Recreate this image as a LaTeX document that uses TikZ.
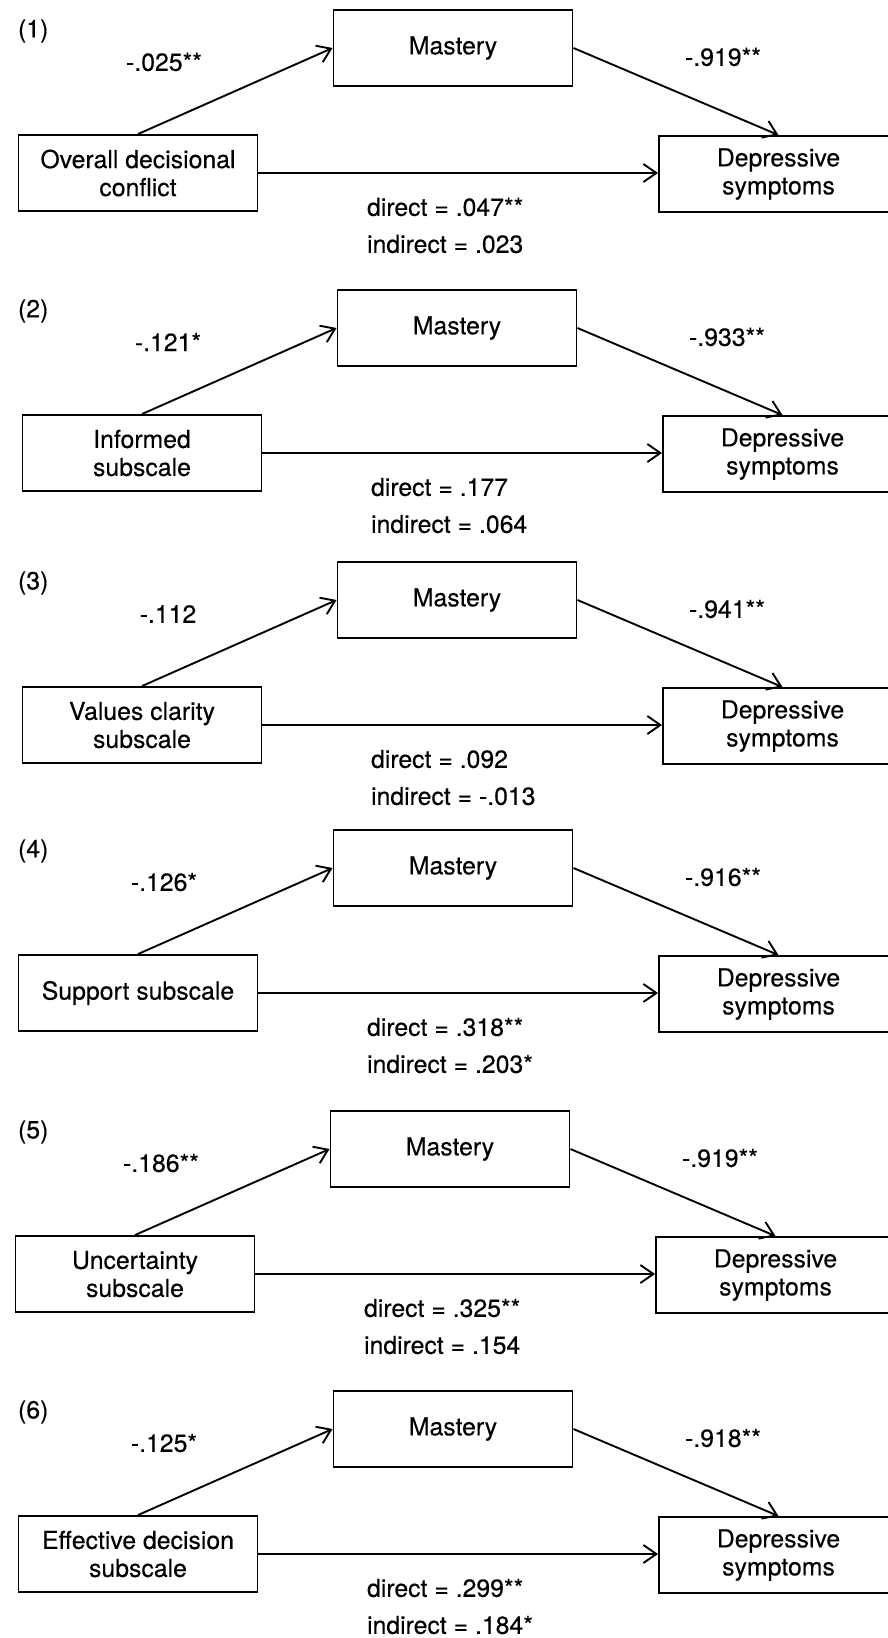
\documentclass[tikz,border=0pt]{standalone}
\usepackage{fontspec}
\setmainfont{TeX Gyre Heros}[FakeBold=0.3]
\usepackage{tikz}
\usetikzlibrary{arrows.meta, positioning, calc}

\begin{document}
\begin{tikzpicture}[x=0.5pt, y=-0.5pt,
    font=\fontsize{12.4}{14}\selectfont,
    box/.style={draw, line width=0.95pt, minimum width=119.5pt, minimum height=38pt, align=center, inner sep=2pt},
    conn/.style={line width=0.95pt, -{Straight Barb[length=6.5pt, width=9pt, line width=0.95pt]}}]
  \useasboundingbox (0,0) rectangle (888,1638);
  \clip (0,0) rectangle (888,1638);
  % one mediation panel per row: number / Mastery centre / predictor / a, b / direct, indirect
  \foreach \n/\mx/\my/\src/\av/\bv/\dv/\iv in {
      1/453/48/{Overall decisional\\conflict}/-.025**/-.919**/.047**/.023,
      2/457/328/{Informed\\subscale}/-.121*/-.933**/.177/.064,
      3/457/600/{Values clarity\\subscale}/-.112/-.941**/.092/-.013,
      4/453/868/{Support subscale}/-.126*/-.916**/.318**/.203*,
      5/450/1149/{Uncertainty\\subscale}/-.186**/-.919**/.325**/.154,
      6/453/1429/{Effective decision\\subscale}/-.125*/-.918**/.299**/.184*}{
    % Boxes
    \node[box] (m\n) at (\mx,\my) {Mastery};
    \node[box] (s\n) at (\mx-315,\my+125) {\src};
    \node[box] (d\n) at (\mx+325.5,\my+126) {Depressive\\symptoms};
    % Paths
    \draw[conn] (s\n.north) -- (m\n.west);
    \draw[conn] (m\n.east) -- (d\n.north);
    \draw[conn] (s\n.east) -- (s\n.east -| d\n.west);
    % Coefficients
    \node[anchor=west] (num\n) at (11,\my-17) {(\n)};
    \node (a\n) at (\mx-289,\my+14) {\av};
    \node (b\n) at (\mx+270,\my+9) {\bv};
    \node[anchor=west] (dir\n) at (\mx-93,\my+159) {direct = \dv};
    \node[anchor=west] (ind\n) at (\mx-93,\my+196) {indirect = \iv};
  }
\end{tikzpicture}
\end{document}
